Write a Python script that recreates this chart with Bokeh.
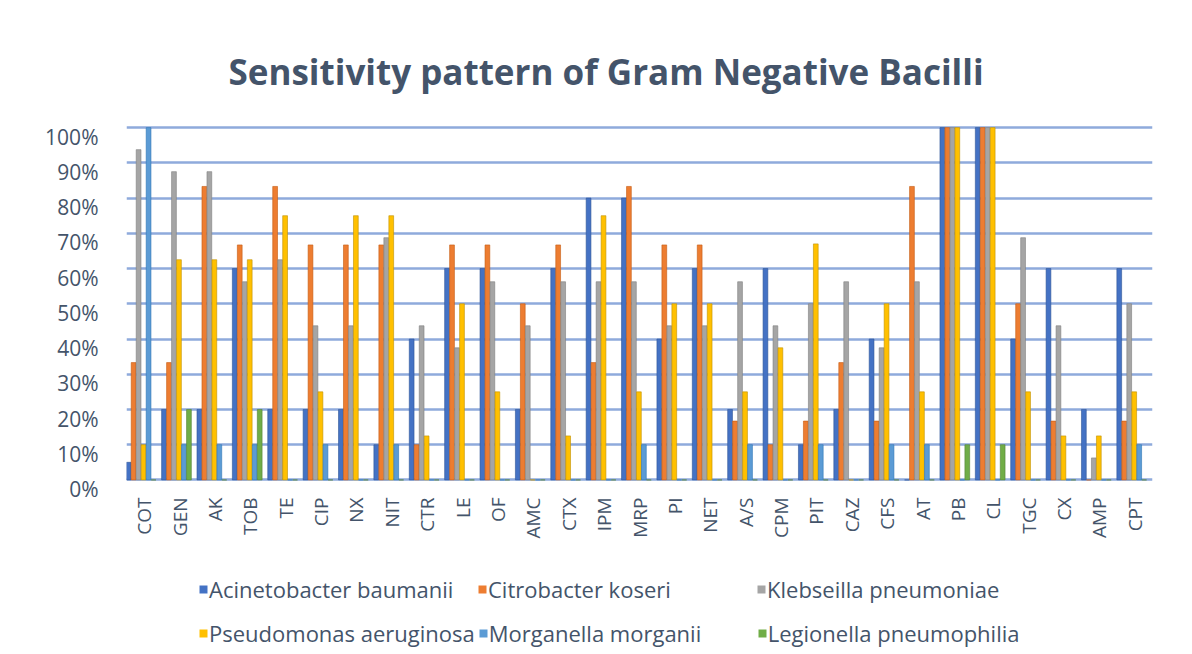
import math
from bokeh.plotting import figure
from bokeh.layouts import column
from bokeh.models import (ColumnDataSource, FactorRange, Range1d, FixedTicker, LinearAxis,
                          PrintfTickFormatter, Legend, LegendItem)
from bokeh.transform import dodge
from bokeh.embed import file_html
from bokeh.resources import INLINE

antibiotics = ["COT", "GEN", "AK", "TOB", "TE", "CIP", "NX", "NIT", "CTR", "LE", "OF", "AMC",
               "CTX", "IPM", "MRP", "PI", "NET", "A/S", "CPM", "PIT", "CAZ", "CFS", "AT", "PB",
               "CL", "TGC", "CX", "AMP", "CPT"]

acinetobacter = [5, 20, 20, 60, 20, 20, 20, 10, 40, 60, 60, 20, 60, 80, 80, 40, 60, 20, 60, 10,
                 20, 40, 0, 100, 100, 40, 60, 20, 60]
citrobacter = [33.3, 33.3, 83.3, 66.7, 83.3, 66.7, 66.7, 66.7, 10, 66.7, 66.7, 50, 66.7, 33.3,
               83.3, 66.7, 66.7, 16.7, 10, 16.7, 33.3, 16.7, 83.3, 100, 100, 50, 16.7, 0, 16.7]
klebsiella = [93.75, 87.5, 87.5, 56.25, 62.5, 43.75, 43.75, 68.75, 43.75, 37.5, 56.25, 43.75,
              56.25, 56.25, 56.25, 43.75, 43.75, 56.25, 43.75, 50, 56.25, 37.5, 56.25, 100, 100,
              68.75, 43.75, 6.25, 50]
pseudomonas = [10, 62.5, 62.5, 62.5, 75, 25, 75, 75, 12.5, 50, 25, 0, 12.5, 75, 25, 50, 50, 25,
               37.5, 67, 0, 50, 25, 100, 100, 25, 12.5, 12.5, 25]
morganella = [100, 10, 10, 10, 0, 10, 0, 10, 0, 0, 0, 0, 0, 0, 10, 0, 0, 10, 0, 10, 0, 10, 10,
              0, 0, 0, 0, 0, 10]
legionella = [0, 20, 0, 20, 0, 0, 0, 0, 0, 0, 0, 0, 0, 0, 0, 0, 0, 0, 0, 0, 0, 0, 0, 10, 10, 0,
              0, 0, 0]

series_names = ["Acinetobacter baumanii", "Citrobacter koseri", "Klebseilla pneumoniae",
                "Pseudomonas aeruginosa", "Morganella morganii", "Legionella pneumophilia"]
y_ticks = [0, 10, 20, 30, 40, 50, 60, 70, 80, 90, 100]

keys = ["a", "c", "k", "p", "m", "l"]
colors = ["#4472C4", "#ED7D31", "#A5A5A5", "#FFC000", "#5B9BD5", "#70AD47"]
edge = ["#2F5597", "#C55A11", "#7F7F7F", "#BF9000", "#2E75B6", "#548235"]

source = ColumnDataSource(dict(cat=antibiotics, a=acinetobacter, c=citrobacter, k=klebsiella,
                               p=pseudomonas, m=morganella, l=legionella))

TXT = "#44546A"
FONT = "Open Sans"
W = 1192

p = figure(width=W, height=554, output_backend="svg", toolbar_location=None,
           x_range=FactorRange(*antibiotics, range_padding=0),
           y_range=Range1d(-3, 100.6),
           min_border_left=126, min_border_right=40, min_border_top=125,
           min_border_bottom=64)
p.outline_line_color = None
p.background_fill_color = "white"

# title
p.title.text = "Sensitivity pattern of Gram Negative Bacilli"
p.title.align = "left"
p.title.offset = 102
p.title.text_font = FONT
p.title.text_font_style = "bold"
p.title.text_font_size = "35px"
p.title.text_color = TXT
p.title.standoff = 62

# grid
p.xgrid.grid_line_color = None
p.ygrid.ticker = FixedTicker(ticks=y_ticks)
p.ygrid.grid_line_color = "#8FAADC"
p.ygrid.grid_line_width = 2.5

# hide main y axis, use a shifted one for labels (labels sit a little below their gridlines)
p.yaxis.visible = False
p.extra_y_ranges = {"lab": Range1d(-3 + 2.6, 100.6 + 2.6)}
yax = LinearAxis(y_range_name="lab", ticker=FixedTicker(ticks=y_ticks),
                 formatter=PrintfTickFormatter(format="%d%%"))
yax.axis_line_color = None
yax.major_tick_line_color = None
yax.minor_tick_line_color = None
yax.major_tick_out = 0
yax.major_label_standoff = 28
yax.major_label_text_font = FONT
yax.major_label_text_font_size = "21px"
yax.major_label_text_color = TXT
p.add_layout(yax, "left")

# x axis
xa = p.xaxis[0]
xa.axis_line_color = None
xa.major_tick_line_color = None
xa.major_tick_out = 0
xa.major_label_orientation = math.pi / 2
xa.major_label_standoff = 7
xa.major_label_text_font = FONT
xa.major_label_text_font_size = "19px"
xa.major_label_text_color = TXT

for i, key in enumerate(keys):
    off = -0.44 + i * 0.141
    p.vbar(x=dodge("cat", off, range=p.x_range), top=key, bottom=0, width=0.135,
           source=source, fill_color=colors[i], line_color=edge[i], line_width=0.6)

# legend strip below the chart
q = figure(width=W, height=100, output_backend="svg", toolbar_location=None,
           x_range=Range1d(0, 1), y_range=Range1d(0, 1),
           min_border_left=0, min_border_right=0, min_border_top=0, min_border_bottom=0)
q.outline_line_color = None
q.axis.visible = False
q.grid.visible = False
swatches = []
for i in range(6):
    swatches.append(q.quad(left=[0.5], right=[0.5], bottom=[0.5], top=[0.5],
                           fill_color=colors[i], line_color=None))

def make_legend(idx, y):
    items = [LegendItem(label=series_names[j], renderers=[swatches[j]]) for j in idx]
    return Legend(items=items, orientation="horizontal", location=(72, y),
                  glyph_width=10, glyph_height=10, label_standoff=1, spacing=3,
                  label_width=265, label_height=24, padding=0, margin=0,
                  border_line_color=None, background_fill_alpha=0,
                  label_text_font=FONT, label_text_font_size="22px",
                  label_text_color=TXT)

q.add_layout(make_legend([0, 1, 2], 50), "center")
q.add_layout(make_legend([3, 4, 5], 6), "center")

layout = column(p, q, spacing=0)
open("out.html", "w").write(file_html(layout, INLINE))
